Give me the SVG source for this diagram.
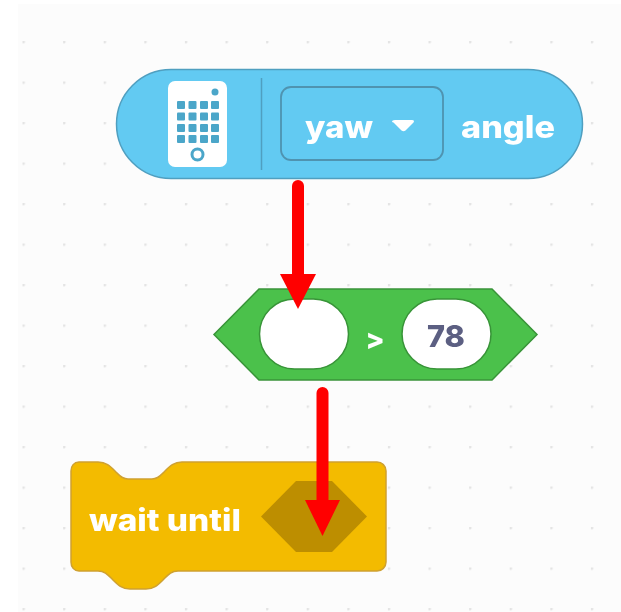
<svg xmlns="http://www.w3.org/2000/svg" width="621" height="612" viewBox="0 0 621 612">
<style>
.t{font-family:Inter,"Liberation Sans",sans-serif;font-weight:800;fill:#fff}
.sq{fill:#4ba6c9}
.arrow{fill:#ff0000;stroke:none}
.shaft{stroke:#ff0000;stroke-width:12;stroke-linecap:round;fill:none}
</style>
<defs>
<filter id="soft" x="-5%" y="-5%" width="110%" height="110%"><feGaussianBlur stdDeviation="0.7"/></filter>
<pattern id="dots" x="22.5" y="41" width="40.6" height="40.5" patternUnits="userSpaceOnUse"><rect x="-0.5" y="-0.5" width="3" height="3" rx="1.500" fill="#e4e4e4"/></pattern>
</defs>
<rect width="621" height="612" fill="#ffffff"/>
<rect x="18" y="4" width="603" height="608" fill="#fcfcfc"/>
<rect x="20" y="39" width="601" height="573" fill="url(#dots)"/>
<g id="sensor-block" filter="url(#soft)">
<rect x="116.500" y="69.500" width="466" height="109" rx="54.500" fill="#62caf2" stroke="#4f9fc0" stroke-width="1.500"/>
<rect x="168" y="81" width="59" height="86" rx="7" fill="#fff"/>
<circle cx="215" cy="92" r="3.500" class="sq"/>
<g class="sq">
<rect x="177" y="101" width="8" height="8" rx="1"/><rect x="188.500" y="101" width="8" height="8" rx="1"/><rect x="200" y="101" width="8" height="8" rx="1"/><rect x="211" y="101" width="8" height="8" rx="1"/>
<rect x="177" y="112.500" width="8" height="8" rx="1"/><rect x="188.500" y="112.500" width="8" height="8" rx="1"/><rect x="200" y="112.500" width="8" height="8" rx="1"/><rect x="211" y="112.500" width="8" height="8" rx="1"/>
<rect x="177" y="124" width="8" height="8" rx="1"/><rect x="188.500" y="124" width="8" height="8" rx="1"/><rect x="200" y="124" width="8" height="8" rx="1"/><rect x="211" y="124" width="8" height="8" rx="1"/>
<rect x="177" y="135" width="8" height="8" rx="1"/><rect x="188.500" y="135" width="8" height="8" rx="1"/><rect x="200" y="135" width="8" height="8" rx="1"/><rect x="211" y="135" width="8" height="8" rx="1"/>
</g>
<circle cx="197.500" cy="154.500" r="5.500" fill="#fff" stroke="#4ba6c9" stroke-width="3"/>
<line x1="261.500" y1="78" x2="261.500" y2="170" stroke="#4f9fc0" stroke-width="1.500"/>
<rect x="281" y="87" width="162" height="73" rx="10" fill="#62caf2" stroke="#4f93b0" stroke-width="1.800"/>
<text class="t" x="305" y="138" font-size="31" textLength="68" lengthAdjust="spacingAndGlyphs">yaw</text>
<path d="M392 122Q392 120 395 120H412Q415 120 413.500 122.500L405.500 130.500Q403.500 132 401.500 130.500L393.500 122.500Z" fill="#fff"/>
<text class="t" x="461" y="138" font-size="31" textLength="94" lengthAdjust="spacingAndGlyphs">angle</text>
</g>
<g id="compare-block" filter="url(#soft)">
<path d="M259 289H492L537 334.500L492 380H259L214 334.500Z" fill="#4cc14c" stroke="#389438" stroke-width="1.500"/>
<rect x="259.500" y="299" width="89" height="70" rx="35" fill="#fff" stroke="#389438" stroke-width="1.500"/>
<text class="t" x="375" y="349" font-size="28" text-anchor="middle">&gt;</text>
<rect x="402" y="299" width="89" height="70" rx="35" fill="#fff" stroke="#389438" stroke-width="1.500"/>
<text x="427" y="347" font-size="30" textLength="38" lengthAdjust="spacingAndGlyphs" font-family="Inter,'Liberation Sans',sans-serif" font-weight="800" fill="#5c5f82">78</text>
</g>
<g id="wait-block" filter="url(#soft)">
<path d="M79 462H98C106 462 110 466 115 471C119 475 122 479 128 479H152C158 479 161 475 165 471C170 466 174 462 182 462H377C382 462 386 466 386 471V562C386 567 382 571 377 571H178C171 571 168 575 163 580C158 585 154 589 146 589H130C122 589 118 585 113 580C108 575 105 571 98 571H79C74 571 71 567 71 562V471C71 466 74 462 79 462Z" fill="#f3bb00" stroke="#cfa130" stroke-width="1.500"/>
<text class="t" x="89" y="531" font-size="30" textLength="152" lengthAdjust="spacingAndGlyphs">wait until</text>
<path d="M296 481H332L367 516.500L332 552H296L261 516.500Z" fill="#bd8e00"/>
</g>
<g id="connectors">
<line class="shaft" x1="298" y1="186" x2="298" y2="276"/>
<polygon class="arrow" points="280,274 316,274 298,309"/>
<line class="shaft" x1="322.500" y1="393" x2="322.500" y2="502"/>
<polygon class="arrow" points="305,500 340,500 322.500,536"/>
</g>
</svg>
